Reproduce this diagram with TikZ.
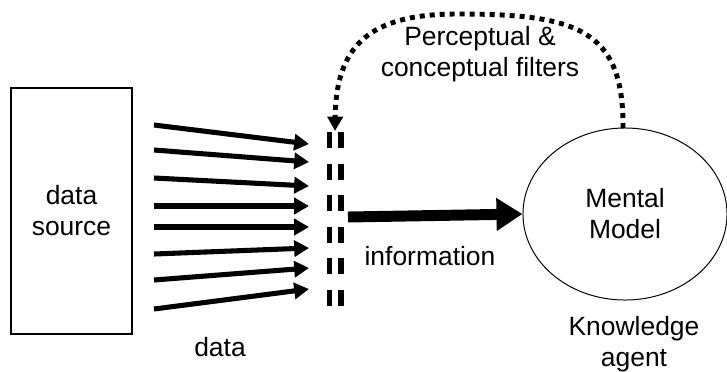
\documentclass[tikz,border=0pt]{standalone}
\usepackage{fontspec}
\setmainfont{Liberation Sans}
\usetikzlibrary{arrows.meta,shapes.geometric}

\tikzset{
  lbl/.style={font=\fontsize{18.8}{22}\selectfont, align=center, inner sep=0pt},
  datarrow/.style={line width=3.6pt, -{Triangle[length=0.37cm,width=0.4cm]}},
  filterbar/.style={line width=3.9pt, dash pattern=on 0.4cm off 0.39cm},
  feedback/.style={line width=3.5pt, dash pattern=on 0.125cm off 0.125cm,
    -{Triangle[length=0.36cm,width=0.38cm]}},
}

\begin{document}
\begin{tikzpicture}[x=0.025cm, y=-0.025cm]
  \useasboundingbox (0,0) rectangle (727,371);

  \node[draw, line width=0.9pt, minimum width=3.025cm, minimum height=6.15cm,
        lbl] (src) at (71.5,211) {data\\source};
  \node[draw, ellipse, line width=0.7pt, minimum width=5.1cm, minimum height=4.3cm,
        lbl] (model) at (625,214) {Mental\\Model};

  \foreach \i/\ys/\yt in {1/125/144, 2/150/162, 3/178/186, 4/206/206,
                          5/227/227, 6/254/248, 7/280/268, 8/309/289} {
    \coordinate (s\i) at (154,\ys);
    \coordinate (t\i) at (309,\yt);
    \draw[datarrow] (s\i) -- (t\i);
  }

  \coordinate (fa) at (329.5,132);
  \coordinate (fb) at (329.5,307);
  \coordinate (fc) at (341,132);
  \coordinate (fd) at (341,307);
  \draw[filterbar] (fa) -- (fb);
  \draw[filterbar] (fc) -- (fd);

  \coordinate (info) at (348,217);
  \draw[line width=7.8pt, -{Triangle[length=0.65cm,width=0.78cm]}]
    (info) -- (model.west);

  \coordinate (top) at (623,128);
  \coordinate (peak) at (457,14);
  \coordinate (fin) at (335,131);
  \draw[feedback] (top) .. controls (624,28) and (575,14) .. (peak)
    .. controls (370,14) and (336,45) .. (fin);

  \node[lbl] (filt) at (480,54) {Perceptual \&\\conceptual filters};
  \node[lbl, anchor=base] (infolbl) at (430,265) {information};
  \node[lbl] (datalbl) at (220,347) {data};
  \node[lbl] (agent) at (634,344) {Knowledge\\agent};
\end{tikzpicture}
\end{document}
